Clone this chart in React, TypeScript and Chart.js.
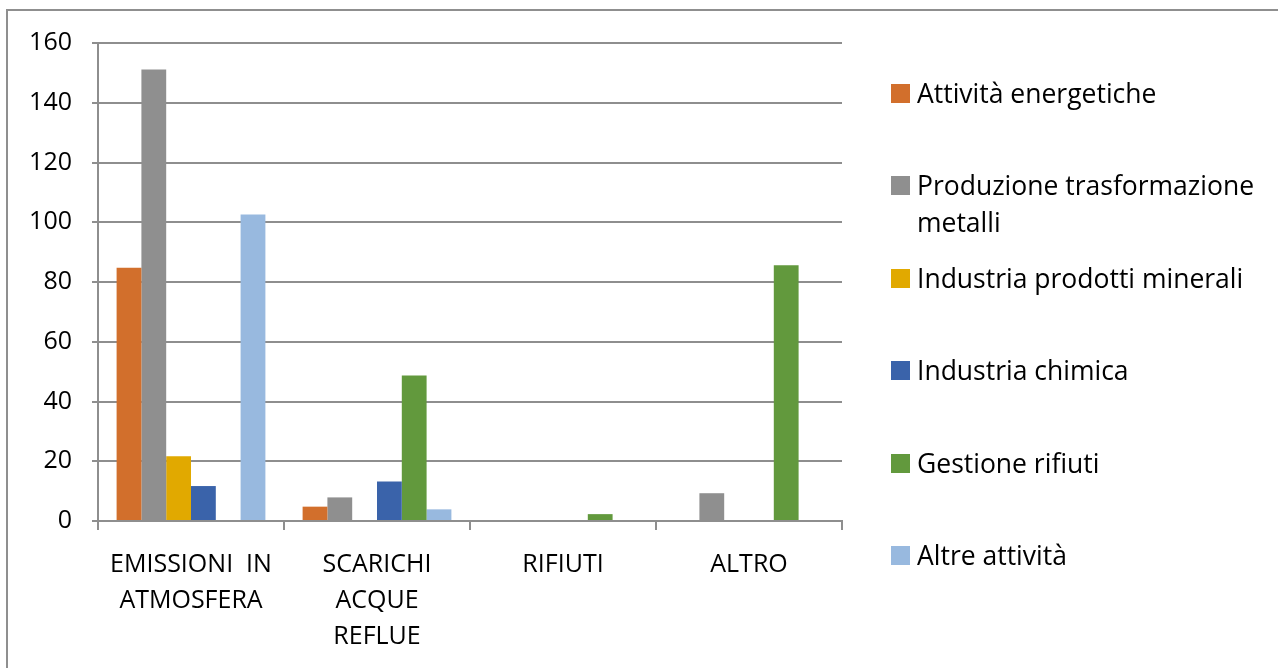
import React, { useEffect, useRef } from "react";
import { Chart, registerables } from "chart.js";

Chart.register(...registerables);

const categories: string[][] = [
  ["EMISSIONI  IN", "ATMOSFERA"],
  ["SCARICHI", "ACQUE", "REFLUE"],
  ["RIFIUTI"],
  ["ALTRO"],
];

const seriesNames = [
  "Attività energetiche",
  "Produzione trasformazione metalli",
  "Industria prodotti minerali",
  "Industria chimica",
  "Gestione rifiuti",
  "Altre attività",
];

const attivitaEnergetiche = [84.8, 4.8, 0, 0];
const produzioneMetalli = [151.1, 7.9, 0, 9.3];
const prodottiMinerali = [21.7, 0, 0, 0];
const industriaChimica = [11.7, 13.2, 0, 0];
const gestioneRifiuti = [0, 48.7, 2.3, 85.6];
const altreAttivita = [102.6, 3.9, 0, 0];

const seriesColors = ["#D26F2C", "#8F8F8F", "#E1A900", "#3A63AA", "#62993D", "#98B9DF"];

const yTicks = [0, 20, 40, 60, 80, 100, 120, 140, 160];

const FONT = "'Open Sans', 'Noto Sans', sans-serif";
const GRID = "#8e8e8e";

export default function App() {
  const canvasRef = useRef<HTMLCanvasElement | null>(null);

  useEffect(() => {
    const values = [
      attivitaEnergetiche,
      produzioneMetalli,
      prodottiMinerali,
      industriaChimica,
      gestioneRifiuti,
      altreAttivita,
    ];
    const chart = new Chart(canvasRef.current as HTMLCanvasElement, {
      type: "bar",
      data: {
        labels: categories,
        datasets: seriesNames.map((name, i) => ({
          label: name,
          data: values[i],
          backgroundColor: seriesColors[i],
          borderWidth: 0,
          categoryPercentage: 0.8,
          barPercentage: 1.0,
        })),
      },
      options: {
        animation: false,
        responsive: false,
        maintainAspectRatio: false,
        layout: { padding: { left: 0, top: 43, right: 1278 - 842, bottom: 0 } },
        plugins: { legend: { display: false }, tooltip: { enabled: false } },
        scales: {
          x: {
            afterFit: (s: any) => {
              s.height = 668 - 521;
            },
            grid: {
              display: true,
              drawOnChartArea: false,
              drawTicks: true,
              tickLength: 9,
              color: GRID,
              lineWidth: 2,
              offset: true,
            },
            border: { display: true, color: GRID, width: 2 },
            ticks: {
              color: "#000",
              font: { family: FONT, size: 25, lineHeight: 1.44 },
              padding: 17,
              maxRotation: 0,
              autoSkip: false,
            },
          },
          y: {
            min: 0,
            max: 160,
            afterFit: (s: any) => {
              s.width = 98;
            },
            afterBuildTicks: (s: any) => {
              s.ticks = yTicks.map((v) => ({ value: v }));
            },
            grid: {
              color: GRID,
              lineWidth: 2,
              drawTicks: true,
              tickLength: 6,
            },
            border: { display: true, color: GRID, width: 2 },
            ticks: {
              color: "#000",
              font: { family: FONT, size: 25 },
              padding: 20,
            },
          },
        },
      },
    });
    return () => chart.destroy();
  }, []);

  const rowCenters = [93, 185, 278, 370, 463, 555];

  return (
    <div
      style={{
        position: "fixed",
        left: 0,
        top: 0,
        width: 1278,
        height: 668,
        overflow: "hidden",
        background: "#fff",
        fontFamily: FONT,
      }}
    >
      <div
        style={{
          position: "absolute",
          left: 6,
          top: 9,
          width: 1400,
          height: 800,
          border: "2px solid #8f8f8f",
          boxSizing: "border-box",
        }}
      />
      <canvas
        ref={canvasRef}
        width={1278}
        height={668}
        style={{ position: "absolute", left: 0, top: 0, width: 1278, height: 668 }}
      />
      {seriesNames.map((name, i) => (
        <div
          key={name}
          style={{
            position: "absolute",
            left: 891,
            top: rowCenters[i] - 18,
            display: "flex",
            alignItems: "flex-start",
          }}
        >
          <div
            style={{
              width: 19,
              height: 19,
              marginTop: 9,
              background: seriesColors[i],
              flex: "0 0 auto",
            }}
          />
          <div
            style={{
              marginLeft: 7,
              fontSize: 26.5,
              lineHeight: "37px",
              color: "#000",
              width: 360,
            }}
          >
            {name}
          </div>
        </div>
      ))}
    </div>
  );
}
